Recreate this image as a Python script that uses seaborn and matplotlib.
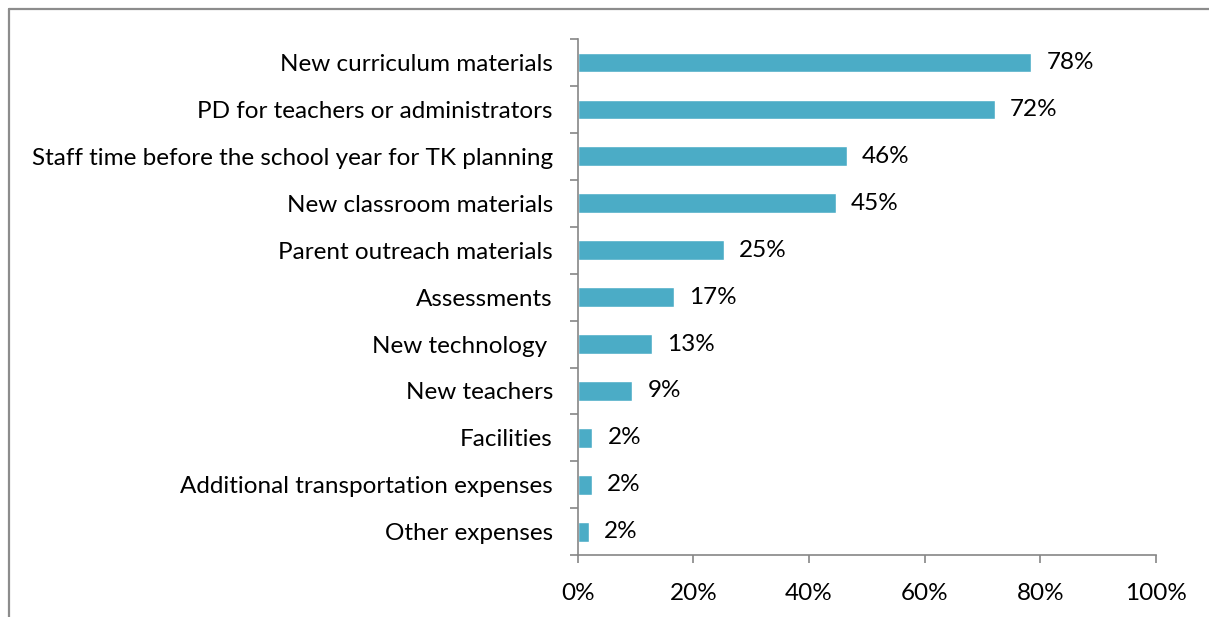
import matplotlib
matplotlib.use("Agg")
import matplotlib.pyplot as plt
from matplotlib.lines import Line2D
import seaborn as sns

# Данные
categories = [
    "New curriculum materials",
    "PD for teachers or administrators",
    "Staff time before the school year for TK planning",
    "New classroom materials",
    "Parent outreach materials",
    "Assessments",
    "New technology ",
    "New teachers",
    "Facilities",
    "Additional transportation expenses",
    "Other expenses",
]
values = [78.4, 72.1, 46.5, 44.6, 25.2, 16.6, 12.8, 9.4, 2.5, 2.4, 1.9]
value_labels = ["78%", "72%", "46%", "45%", "25%", "17%", "13%", "9%", "2%", "2%", "2%"]
x_ticks = [0, 20, 40, 60, 80, 100]
x_tick_labels = ["0%", "20%", "40%", "60%", "80%", "100%"]

sns.set_style("white")
plt.rcParams["font.family"] = ["Lato", "DejaVu Sans"]
plt.rcParams["text.color"] = "black"
plt.rcParams["xtick.color"] = "black"
plt.rcParams["ytick.color"] = "black"

bar_color = "#4BACC6"
axis_color = "#868686"
fs = 17.5

fig = plt.figure(figsize=(12.09, 6.17), dpi=100)
ax = fig.add_axes([0.478, 0.100, 0.478, 0.837])

sns.barplot(x=values, y=categories, orient="h", color=bar_color,
            width=0.415, saturation=1, ax=ax)

ax.bar_label(ax.containers[0], labels=value_labels, padding=11,
             fontsize=fs, color="black")

ax.set_xlim(0, 100)
ax.set_ylim(len(categories) - 0.5, -0.5)
ax.set_xticks(x_ticks)
ax.set_xticklabels(x_tick_labels, fontsize=fs)
ax.set_yticks([i - 0.5 for i in range(len(categories) + 1)], minor=True)
ax.tick_params(axis="y", which="major", left=False, length=0, pad=18, labelsize=fs)
ax.tick_params(axis="y", which="minor", left=True, length=6, width=1.2,
               color=axis_color, direction="out")
ax.tick_params(axis="x", which="major", bottom=True, length=6, width=1.2,
               color=axis_color, direction="out", pad=14)
ax.set_xlabel("")
ax.set_ylabel("")

for side in ["top", "right"]:
    ax.spines[side].set_visible(False)
for side in ["left", "bottom"]:
    ax.spines[side].set_color(axis_color)
    ax.spines[side].set_linewidth(1.2)

# Рамка вокруг диаграммы (слева и сверху)
fig.add_artist(Line2D([9 / 1209, 9 / 1209], [0, 1 - 9 / 617],
                      color="#8c8c8c", linewidth=1.6, transform=fig.transFigure))
fig.add_artist(Line2D([9 / 1209, 1], [1 - 9 / 617, 1 - 9 / 617],
                      color="#8c8c8c", linewidth=1.6, transform=fig.transFigure))

fig.savefig("out.png", dpi=100)
